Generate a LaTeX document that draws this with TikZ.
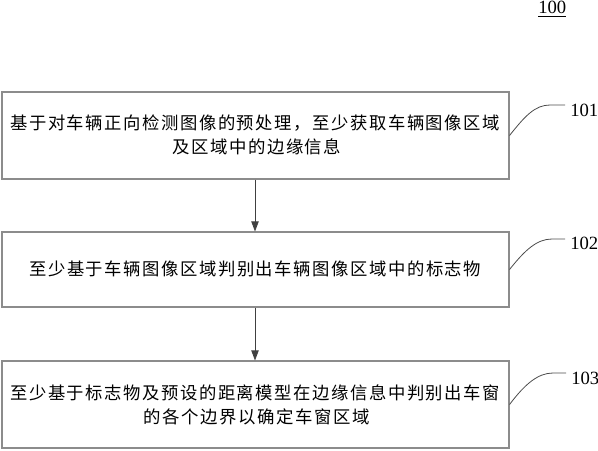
\documentclass[tikz,border=0pt]{standalone}
\usepackage{fontspec}
\setmainfont{Liberation Serif}
\newfontfamily\cjk{Noto Sans CJK SC}
\def\cjkspaced#1{\ifx#1\relax\else#1\kern1.17pt\expandafter\cjkspaced\fi}
\usetikzlibrary{arrows.meta}
\tikzset{
  stepbox/.style={draw=black!45, line width=0.8pt, minimum width=380.25pt, inner sep=0pt},
  steptext/.style={font=\cjk\fontsize{13pt}{18pt}\selectfont, inner sep=0pt, anchor=west},
  steptexttwo/.style={font=\cjk\fontsize{13.05pt}{18pt}\selectfont, inner sep=0pt, anchor=west, rotate=0.01},
  flow/.style={draw=black!75, line width=0.6pt, -{Triangle[length=7.5pt,width=5.5pt]}},
  lead/.style={draw=black!70, line width=0.6pt},
  numlabel/.style={anchor=west, font=\fontsize{14pt}{16pt}\selectfont, inner sep=0pt}
}
\begin{document}
\begin{tikzpicture}[x=0.75pt,y=-0.75pt]
\useasboundingbox (0,0) rectangle (598,450);
\node[stepbox, minimum height=65.25pt] (b1) at (255.5,135.5) {};
\node[stepbox, minimum height=56.25pt] (b2) at (255.5,269.5) {};
\node[stepbox, minimum height=65.25pt] (b3) at (255.5,404.5) {};
\coordinate (c1a) at (550,105); \coordinate (c1b) at (565,105);
\coordinate (c2a) at (552,239); \coordinate (c2b) at (565,239);
\coordinate (c3a) at (553,373); \coordinate (c3b) at (566,373);
\node[steptexttwo] (t1b) at (172,147) {\cjkspaced 及区域中的边缘信息\relax};
\node[steptexttwo] (t3b) at (143.5,417) {\cjkspaced 的各个边界以确定车窗区域\relax};
\draw[lead] (b1.east) .. controls (525,116) and (535,105) .. (c1a) -- (c1b);
\draw[lead] (b2.east) .. controls (525,250) and (537,239) .. (c2a) -- (c2b);
\draw[lead] (b3.east) .. controls (525,384) and (538,373) .. (c3a) -- (c3b);
\draw[flow] (b1.south -| 255,0) -- (b2.north -| 255,0);
\draw[flow] (b2.south -| 255,0) -- (b3.north -| 255,0);
\node[steptext] (t1a) at (10,123) {\cjkspaced 基于对车辆正向检测图像的预处理，至少获取车辆图像区域\relax};
\node[steptext] (t2) at (29,269) {\cjkspaced 至少基于车辆图像区域判别出车辆图像区域中的标志物\relax};
\node[steptext] (t3a) at (10,393) {\cjkspaced 至少基于标志物及预设的距离模型在边缘信息中判别出车窗\relax};
\node[numlabel] (l0) at (538,9) {\underline{100}};
\node[numlabel] (l1) at (570,110.5) {101};
\node[numlabel] (l2) at (570,243.5) {102};
\node[numlabel] (l3) at (571,378) {103};
\end{tikzpicture}
\end{document}
